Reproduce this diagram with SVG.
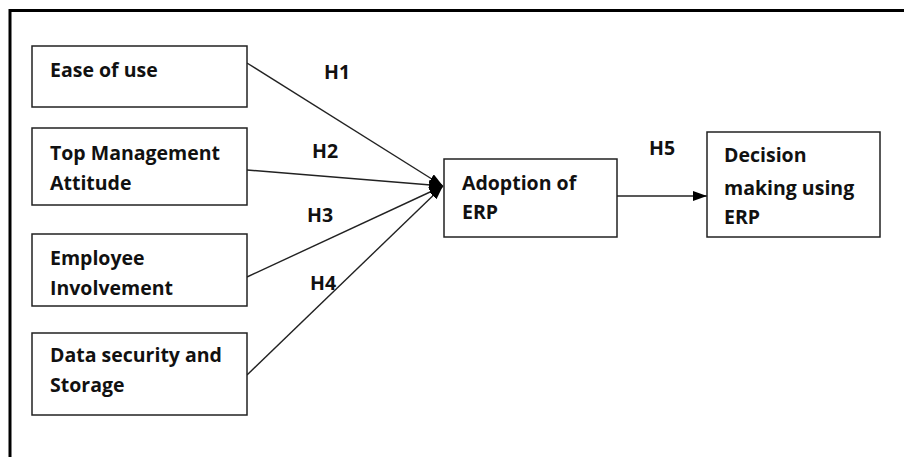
<svg xmlns="http://www.w3.org/2000/svg" width="904" height="457" viewBox="0 0 904 457">
<style>
.box{fill:#fff;stroke:#222;stroke-width:1.5}
.t{font-family:"Open Sans","Liberation Sans",sans-serif;font-weight:bold;font-size:19.5px;fill:#111}
.c{stroke:#222;stroke-width:1.4;fill:none}
</style>
<defs>
<marker id="ah" viewBox="0 0 14 10" refX="14" refY="5" markerWidth="14" markerHeight="10" markerUnits="userSpaceOnUse" orient="auto">
<path d="M0,0 L14,5 L0,10 Z" fill="#000"/>
</marker>
</defs>
<rect width="904" height="457" fill="#fff"/>
<path d="M10,457 V10.5 H904" fill="none" stroke="#000" stroke-width="3"/>
<g id="connectors">
<line class="c" x1="247" y1="63" x2="443" y2="186" marker-end="url(#ah)"/>
<line class="c" x1="247" y1="170" x2="443" y2="186" marker-end="url(#ah)"/>
<line class="c" x1="247" y1="277" x2="443" y2="186" marker-end="url(#ah)"/>
<line class="c" x1="247" y1="375" x2="443" y2="186" marker-end="url(#ah)"/>
<line class="c" x1="617" y1="196" x2="707" y2="196" marker-end="url(#ah)"/>
<text class="t" x="324" y="79">H1</text>
<text class="t" x="312" y="158">H2</text>
<text class="t" x="307" y="222">H3</text>
<text class="t" x="310" y="290">H4</text>
<text class="t" x="649" y="155">H5</text>
</g>
<g id="ease">
<rect class="box" x="32" y="46" width="215" height="61"/>
<text class="t" x="50" y="77">Ease of use</text>
</g>
<g id="topmgmt">
<rect class="box" x="32" y="128" width="215" height="77"/>
<text class="t" x="50" y="160">Top Management</text>
<text class="t" x="50" y="190">Attitude</text>
</g>
<g id="employee">
<rect class="box" x="32" y="234" width="215" height="72"/>
<text class="t" x="50" y="265">Employee</text>
<text class="t" x="50" y="295">Involvement</text>
</g>
<g id="data">
<rect class="box" x="32" y="333" width="215" height="82"/>
<text class="t" x="50" y="362">Data security and</text>
<text class="t" x="50" y="392">Storage</text>
</g>
<g id="adoption">
<rect class="box" x="444" y="159" width="173" height="78"/>
<text class="t" x="462" y="190">Adoption of</text>
<text class="t" x="462" y="219">ERP</text>
</g>
<g id="decision">
<rect class="box" x="707" y="132" width="173" height="105"/>
<text class="t" x="724" y="162">Decision</text>
<text class="t" x="724" y="195">making using</text>
<text class="t" x="724" y="224">ERP</text>
</g>
</svg>
